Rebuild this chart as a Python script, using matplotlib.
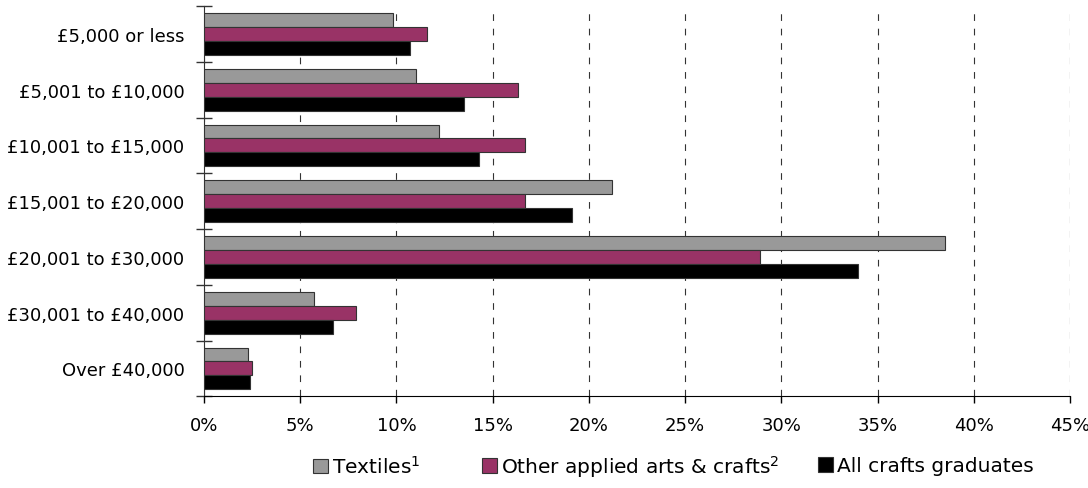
import numpy as np
import matplotlib.pyplot as plt
from matplotlib.ticker import FixedLocator, PercentFormatter

categories = ['£5,000 or less', '£5,001 to £10,000', '£10,001 to £15,000',
              '£15,001 to £20,000', '£20,001 to £30,000', '£30,001 to £40,000',
              'Over £40,000']
textiles = [9.8, 11.0, 12.2, 21.2, 38.5, 5.7, 2.3]
other_crafts = [11.6, 16.3, 16.7, 16.7, 28.9, 7.9, 2.5]
all_crafts = [10.7, 13.5, 14.3, 19.1, 34.0, 6.7, 2.4]
xticks = [0, 5, 10, 15, 20, 25, 30, 35, 40, 45]

series = [('Textiles$^{1}$', textiles, '#999999'),
          ('Other applied arts & crafts$^{2}$', other_crafts, '#993366'),
          ('All crafts graduates', all_crafts, '#000000')]
legend_x = [0.2877, 0.443, 0.752]  # left edge of each legend entry (fig fraction)

plt.rcParams['font.family'] = ['DejaVu Sans']
plt.rcParams['font.size'] = 13

fig = plt.figure(figsize=(10.88, 4.89), dpi=100)
ax = fig.add_axes([0.1875, 0.1875, 0.796, 0.798])

y = np.arange(len(categories))
h = 0.25
bars = []
for i, (name, vals, col) in enumerate(series):
    b = ax.barh(y + (i - 1) * h, vals, height=h, color=col, edgecolor='#333333',
                linewidth=0.8, label=name, zorder=3)
    bars.append(b)

ax.set_xlim(0, 45)
ax.set_ylim(len(categories) - 0.5, -0.5)
ax.set_xticks(xticks)
ax.xaxis.set_major_formatter(PercentFormatter(decimals=0))
ax.xaxis.grid(True, linestyle=(0, (6, 7)), color='#333333', linewidth=0.8, zorder=0)

ax.yaxis.set_major_locator(FixedLocator(np.arange(-0.5, len(categories), 1.0)))
ax.yaxis.set_minor_locator(FixedLocator(y))
ax.set_yticklabels([], minor=False)
ax.set_yticklabels(categories, minor=True)
ax.tick_params(axis='y', which='major', direction='inout', length=11, width=1, color='#333333')
ax.tick_params(axis='y', which='minor', length=0, pad=14)
ax.tick_params(axis='x', direction='out', length=5, width=1, pad=9)

for s in ['top', 'right']:
    ax.spines[s].set_visible(False)
ax.spines['left'].set_color('#333333')
ax.spines['bottom'].set_color('#000000')

# one legend per entry so the uneven spacing of the original can be kept
for b, (name, _, _), lx in zip(bars, series, legend_x):
    fig.legend([b], [name], loc='center left', bbox_to_anchor=(lx, 0.045),
               frameon=False, fontsize=14.5, handlelength=0.75, handleheight=0.75,
               handletextpad=0.2, borderpad=0, borderaxespad=0)

fig.savefig('out.png', dpi=100)
